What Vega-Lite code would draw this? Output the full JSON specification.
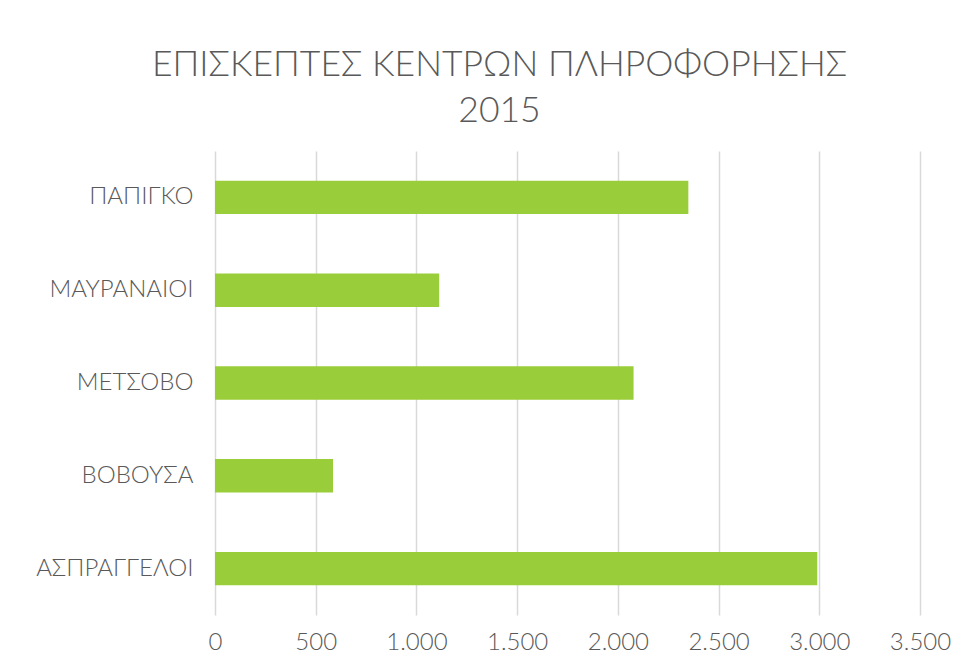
{
  "$schema": "https://vega.github.io/schema/vega-lite/v6.json",
  "autosize": "none",
  "width": 705,
  "height": 464,
  "padding": {"left": 215, "top": 151, "right": 44, "bottom": 56},
  "background": "white",
  "title": {
    "text": ["ΕΠΙΣΚΕΠΤΕΣ ΚΕΝΤΡΩΝ ΠΛΗΡΟΦΟΡΗΣΗΣ", "2015"],
    "anchor": "middle",
    "dx": -68,
    "offset": 22,
    "fontSize": 35.5,
    "lineHeight": 46,
    "font": "Lato",
    "fontWeight": 300,
    "color": "#595959"
  },
  "config": {
    "locale": {"number": {"decimal": ",", "thousands": ".", "grouping": [3], "currency": ["", " €"]}},
    "view": {"stroke": null},
    "font": "Lato"
  },
  "data": {
    "values": [
      {"kentro": "ΠΑΠΙΓΚΟ", "episkeptes": 2350},
      {"kentro": "ΜΑΥΡΑΝΑΙΟΙ", "episkeptes": 1113},
      {"kentro": "ΜΕΤΣΟΒΟ", "episkeptes": 2078},
      {"kentro": "ΒΟΒΟΥΣΑ", "episkeptes": 586},
      {"kentro": "ΑΣΠΡΑΓΓΕΛΟΙ", "episkeptes": 2990}
    ]
  },
  "mark": {"type": "bar", "color": "#9acd3a"},
  "encoding": {
    "y": {
      "field": "kentro",
      "type": "nominal",
      "sort": null,
      "scale": {"paddingInner": 0.64, "paddingOuter": 0.32},
      "axis": {
        "title": null,
        "domain": false,
        "ticks": false,
        "labelPadding": 22,
        "labelFontSize": 24,
        "labelFont": "Lato",
        "labelFontWeight": 300,
        "labelColor": "#595959"
      }
    },
    "x": {
      "field": "episkeptes",
      "type": "quantitative",
      "scale": {"domain": [0, 3500], "nice": false},
      "axis": {
        "title": null,
        "values": [0, 500, 1000, 1500, 2000, 2500, 3000, 3500],
        "format": ",.0f",
        "domain": false,
        "ticks": false,
        "grid": true,
        "gridColor": "#d9d9d9",
        "gridWidth": 1.5,
        "labelFlush": false,
        "labelOverlap": false,
        "labelPadding": 15,
        "labelFontSize": 24,
        "labelFont": "Lato",
        "labelFontWeight": 300,
        "labelColor": "#595959"
      }
    }
  }
}
